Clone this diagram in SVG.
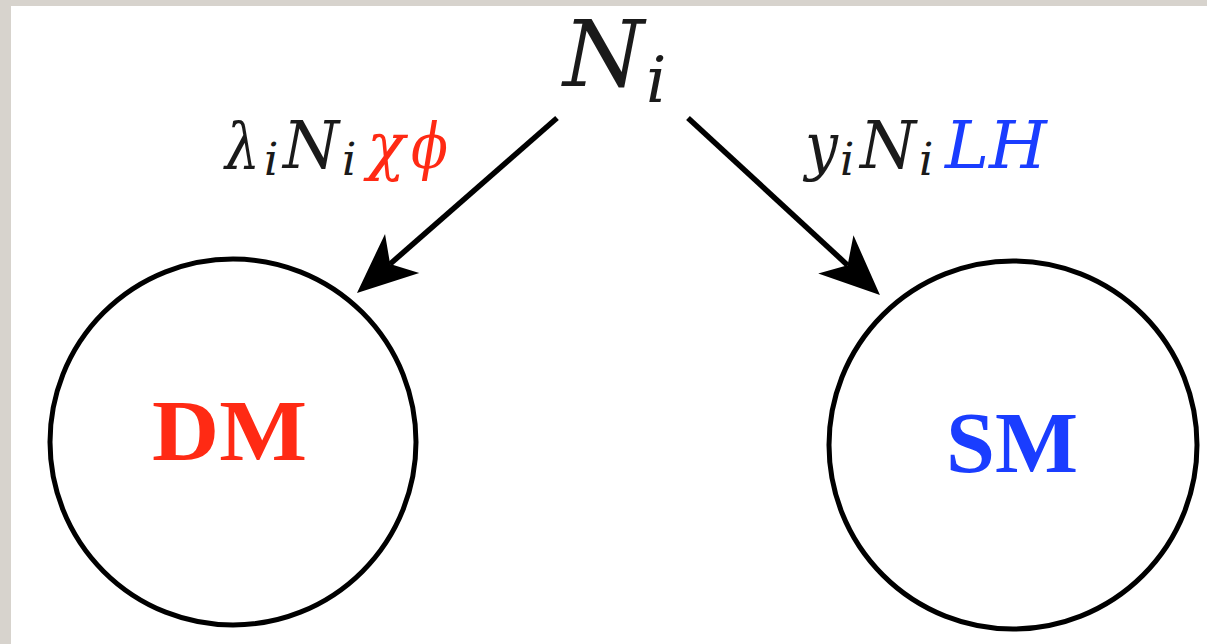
<svg xmlns="http://www.w3.org/2000/svg" width="1207" height="644" viewBox="0 0 1207 644">
  <style>
    .node { fill: none; stroke: #000; stroke-width: 5; }
    .edge { stroke: #000; stroke-width: 5.5; fill: none; }
    .m { font-family: "DejaVu Serif", "Liberation Serif", serif; font-style: italic; fill: #1a1a1a; }
    .b { font-family: "Liberation Serif", "DejaVu Serif", serif; font-weight: bold; }
    .red { fill: #ff2a14; }
    .blue { fill: #1a3dff; }
  </style>
  <defs>
    <marker id="arrow" viewBox="-62 -28 64 56" markerWidth="64" markerHeight="56" refX="-44" refY="0" orient="auto" markerUnits="userSpaceOnUse">
      <path d="M0,0 L-60,-26 L-44,0 L-60,26 Z" fill="#000"/>
    </marker>
  </defs>
  <rect x="0" y="0" width="1207" height="644" fill="#d7d3cd"/>
  <rect x="11" y="6" width="1196" height="638" fill="#ffffff"/>

  <g id="connectors">
    <line class="edge" x1="557" y1="118" x2="390.1" y2="264.0" marker-end="url(#arrow)"/>
    <line class="edge" x1="688" y1="118" x2="847.6" y2="265.2" marker-end="url(#arrow)"/>
    <g id="label-left">
      <text class="m" x="225" y="168" font-size="64" textLength="35" lengthAdjust="spacingAndGlyphs">λ</text>
      <text class="m" x="264" y="175" font-size="45">i</text>
      <text class="m" x="283" y="168" font-size="66" textLength="56" lengthAdjust="spacingAndGlyphs">N</text>
      <text class="m" x="342" y="175" font-size="45">i</text>
      <text class="m red" x="367" y="168" font-size="64" textLength="38" lengthAdjust="spacingAndGlyphs">χ</text>
      <text class="m red" x="411" y="168" font-size="64" textLength="37" lengthAdjust="spacingAndGlyphs">ϕ</text>
    </g>
    <g id="label-right">
      <text class="m" x="805" y="168" font-size="64" textLength="33" lengthAdjust="spacingAndGlyphs">y</text>
      <text class="m" x="840" y="175" font-size="45">i</text>
      <text class="m" x="860" y="168" font-size="66" textLength="56" lengthAdjust="spacingAndGlyphs">N</text>
      <text class="m" x="919" y="175" font-size="45">i</text>
      <text class="m blue" x="945" y="168" font-size="66" textLength="102" lengthAdjust="spacingAndGlyphs">LH</text>
    </g>
  </g>

  <g id="node-Ni">
    <text class="m" x="563" y="86" font-size="92" textLength="81" lengthAdjust="spacingAndGlyphs">N</text>
    <text class="m" x="646" y="102" font-size="64">i</text>
  </g>

  <g id="node-DM">
    <circle class="node" cx="233" cy="442" r="183"/>
    <text class="b red" x="152" y="460" font-size="86" textLength="155" lengthAdjust="spacingAndGlyphs">DM</text>
  </g>

  <g id="node-SM">
    <circle class="node" cx="1013" cy="445" r="184"/>
    <text class="b blue" x="946" y="472" font-size="86" textLength="132" lengthAdjust="spacingAndGlyphs">SM</text>
  </g>
</svg>
